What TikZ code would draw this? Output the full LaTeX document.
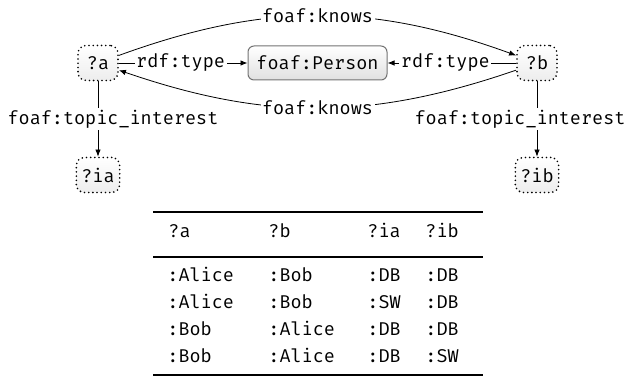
\documentclass[tikz,border=0pt]{standalone}
\usepackage{fontspec}
\setmonofont{Fira Mono}
\usetikzlibrary{arrows.meta,shadings}
\begin{document}
\begin{tikzpicture}[x=1pt,y=1pt,
  font=\ttfamily\fontsize{18.5}{22}\selectfont,
  every path/.style={line width=0.8pt},
  arr/.style={-{Latex[length=7pt,width=5.5pt]}},
  var/.style={draw, line width=1.8pt, line cap=round, dash pattern=on 0pt off 4.2pt, rounded corners=8pt,
    top color=white, bottom color=black!7,
    minimum height=35pt, minimum width=40pt, inner xsep=5pt, inner ysep=0pt},
  cls/.style={draw=black!55, line width=1pt, rounded corners=6pt, top color=white, bottom color=black!12,
    minimum height=34pt, minimum width=139pt, inner sep=0pt},
  lbl/.style={fill=white, inner sep=1.5pt},
  cell/.style={anchor=base west, inner sep=0pt}]
\useasboundingbox (0,0) rectangle (630,377);
% nodes
\node[var] (a) at (98,314) {?a};
\node[cls] (person) at (317.5,314) {foaf:Person};
\node[var] (b) at (537,314) {?b};
\node[var] (ia) at (98,202) {?ia};
\node[var] (ib) at (537,202) {?ib};
% connectors
\draw[arr] (a) -- node[lbl, pos=0.48] {rdf:type} (person);
\draw[arr] (b) -- node[lbl, pos=0.55] {rdf:type} (person);
\draw[arr] (a) to[bend left=20] node[lbl] {foaf:knows} (b);
\draw[arr] (b) to[bend left=19] node[lbl] {foaf:knows} (a);
\draw[arr] (a) -- node[lbl, xshift=15pt] {foaf:topic\_interest} (ia);
\draw[arr] (b) -- node[lbl, xshift=-17pt] {foaf:topic\_interest} (ib);
% table
\draw[line width=2pt] (153,165) -- (483,165);
\draw[line width=1.2pt] (153,120) -- (483,120);
\draw[line width=2pt] (153,2) -- (483,2);
\node[cell] (h1) at (168,139) {?a};
\node[cell] (h2) at (268,139) {?b};
\node[cell] (h3) at (367,139) {?ia};
\node[cell] (h4) at (425,139) {?ib};
\node[cell] (r11) at (167,95) {:Alice};
\node[cell] (r12) at (268,95) {:Bob};
\node[cell] (r13) at (367,95) {:DB};
\node[cell] (r14) at (425,95) {:DB};
\node[cell] (r21) at (167,68) {:Alice};
\node[cell] (r22) at (268,68) {:Bob};
\node[cell] (r23) at (367,68) {:SW};
\node[cell] (r24) at (425,68) {:DB};
\node[cell] (r31) at (167,41) {:Bob};
\node[cell] (r32) at (268,41) {:Alice};
\node[cell] (r33) at (367,41) {:DB};
\node[cell] (r34) at (425,41) {:DB};
\node[cell] (r41) at (167,14) {:Bob};
\node[cell] (r42) at (268,14) {:Alice};
\node[cell] (r43) at (367,14) {:DB};
\node[cell] (r44) at (425,14) {:SW};
\end{tikzpicture}
\end{document}
